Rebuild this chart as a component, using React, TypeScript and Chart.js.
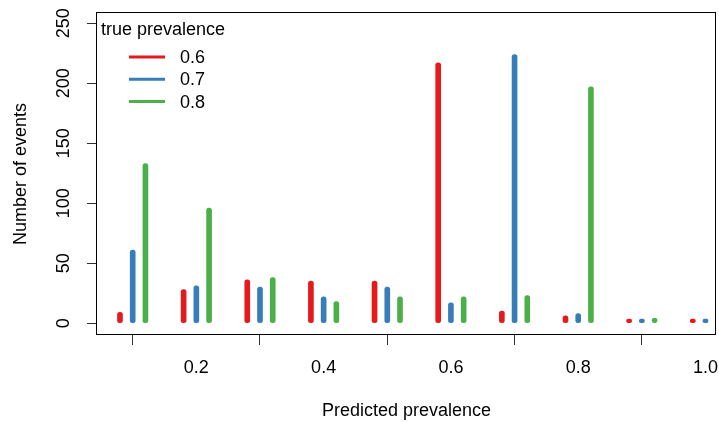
import React, { useEffect, useRef } from "react";
import { Chart, registerables } from "chart.js";

Chart.register(...registerables);

// ---- data ----
const seriesLabels = ["0.6", "0.7", "0.8"];
const seriesColors = ["#E41A1C", "#377EB8", "#4DAF4A"];

const redX = [0.08, 0.18, 0.28, 0.38, 0.48, 0.58, 0.68, 0.78, 0.88, 0.98];
const redY = [9, 28, 36, 35, 35, 217, 10, 6, 2, 1];

const blueX = [0.1, 0.2, 0.3, 0.4, 0.5, 0.6, 0.7, 0.8, 0.9, 1.0];
const blueY = [61, 31, 30, 22, 30, 17, 224, 8, 1, 1];

const greenX = [0.12, 0.22, 0.32, 0.42, 0.52, 0.62, 0.72, 0.82, 0.92];
const greenY = [133, 96, 38, 18, 22, 22, 23, 197, 4];

const xTicks = [0.2, 0.4, 0.6, 0.8, 1.0];
const yTicks = [0, 50, 100, 150, 200, 250];

const xTitle = "Predicted prevalence";
const yTitle = "Number of events";
const legendTitle = "true prevalence";

const FONT = '"Liberation Sans", Arial, Helvetica, sans-serif';
const FS = 18;

const boxLegendPlugin = {
  id: "boxLegend",
  afterDraw(chart: any) {
    const { ctx, chartArea: a } = chart;
    ctx.save();
    ctx.strokeStyle = "#000";
    ctx.lineWidth = 1;
    ctx.strokeRect(
      Math.round(a.left) - 0.5,
      Math.round(a.top) - 0.5,
      Math.round(a.right) - Math.round(a.left),
      Math.round(a.bottom) - Math.round(a.top)
    );
    // legend
    ctx.font = `${FS}px ${FONT}`;
    ctx.fillStyle = "#000";
    ctx.textAlign = "left";
    ctx.textBaseline = "alphabetic";
    ctx.fillText(legendTitle, a.left + 4, a.top + 22);
    chart.data.datasets.forEach((ds: any, i: number) => {
      const y = a.top + 44 + i * 22.3;
      ctx.strokeStyle = ds.backgroundColor;
      ctx.lineWidth = 3;
      ctx.beginPath();
      ctx.moveTo(a.left + 32, y);
      ctx.lineTo(a.left + 68, y);
      ctx.stroke();
      ctx.fillStyle = "#000";
      ctx.fillText(ds.label, a.left + 83, y + 6);
    });
    ctx.restore();
  },
};

export default function App() {
  const ref = useRef<HTMLCanvasElement | null>(null);

  useEffect(() => {
    if (!ref.current) return;
    const xs = [redX, blueX, greenX];
    const ys = [redY, blueY, greenY];
    const chart = new Chart(ref.current, {
      type: "bar",
      data: {
        datasets: xs.map((xArr, k) => ({
          label: seriesLabels[k],
          data: xArr.map((x, i) => ({ x, y: ys[k][i] })),
          backgroundColor: seriesColors[k],
          borderWidth: 0,
          barThickness: 5,
          borderRadius: 2.5,
          borderSkipped: false,
          grouped: false,
          minBarLength: 4,
        })),
      } as any,
      options: {
        animation: false,
        responsive: false,
        maintainAspectRatio: false,
        layout: { padding: { left: 0, right: 3, top: 13, bottom: 0 } },
        plugins: {
          legend: { display: false },
          tooltip: { enabled: false },
        },
        scales: {
          x: {
            type: "linear",
            offset: false,
            min: 0.0439,
            max: 1.0165,
            afterBuildTicks: (s: any) => {
              s.ticks = xTicks.map((v) => ({ value: v }));
            },
            afterFit: (s: any) => {
              s.height = 87;
              s.paddingLeft = 0;
              s.paddingRight = 0;
            },
            grid: {
              display: true,
              drawOnChartArea: false,
              drawTicks: true,
              tickLength: 10,
              color: "#333",
            },
            border: { display: false },
            ticks: {
              autoSkip: false,
              maxRotation: 0,
              minRotation: 0,
              padding: 12,
              color: "#000",
              font: { family: FONT, size: FS },
              callback: (v: any) => Number(v).toFixed(1),
            },
            title: {
              display: true,
              text: xTitle,
              color: "#000",
              font: { family: FONT, size: FS },
              padding: { top: 0, bottom: 0 },
            },
          },
          y: {
            type: "linear",
            min: -9.9,
            max: 258.6,
            afterBuildTicks: (s: any) => {
              s.ticks = yTicks.map((v) => ({ value: v }));
            },
            afterFit: (s: any) => {
              s.width = 97;
              s.paddingTop = 0;
              s.paddingBottom = 0;
            },
            grid: {
              display: true,
              drawOnChartArea: false,
              drawTicks: true,
              tickLength: 10,
              color: "#333",
            },
            border: { display: false },
            ticks: {
              autoSkip: false,
              minRotation: 90,
              maxRotation: 90,
              crossAlign: "center",
              padding: 8,
              color: "#000",
              font: { family: FONT, size: FS },
              callback: (v: any) => String(v),
            },
            title: {
              display: true,
              text: yTitle,
              color: "#000",
              font: { family: FONT, size: FS },
              padding: { top: 10, bottom: 0 },
            },
          },
        },
      } as any,
      plugins: [boxLegendPlugin],
    });
    return () => chart.destroy();
  }, []);

  return (
    <canvas
      ref={ref}
      width={719}
      height={422}
      style={{ position: "absolute", left: 0, top: 0, width: 719, height: 422, display: "block" }}
    />
  );
}
